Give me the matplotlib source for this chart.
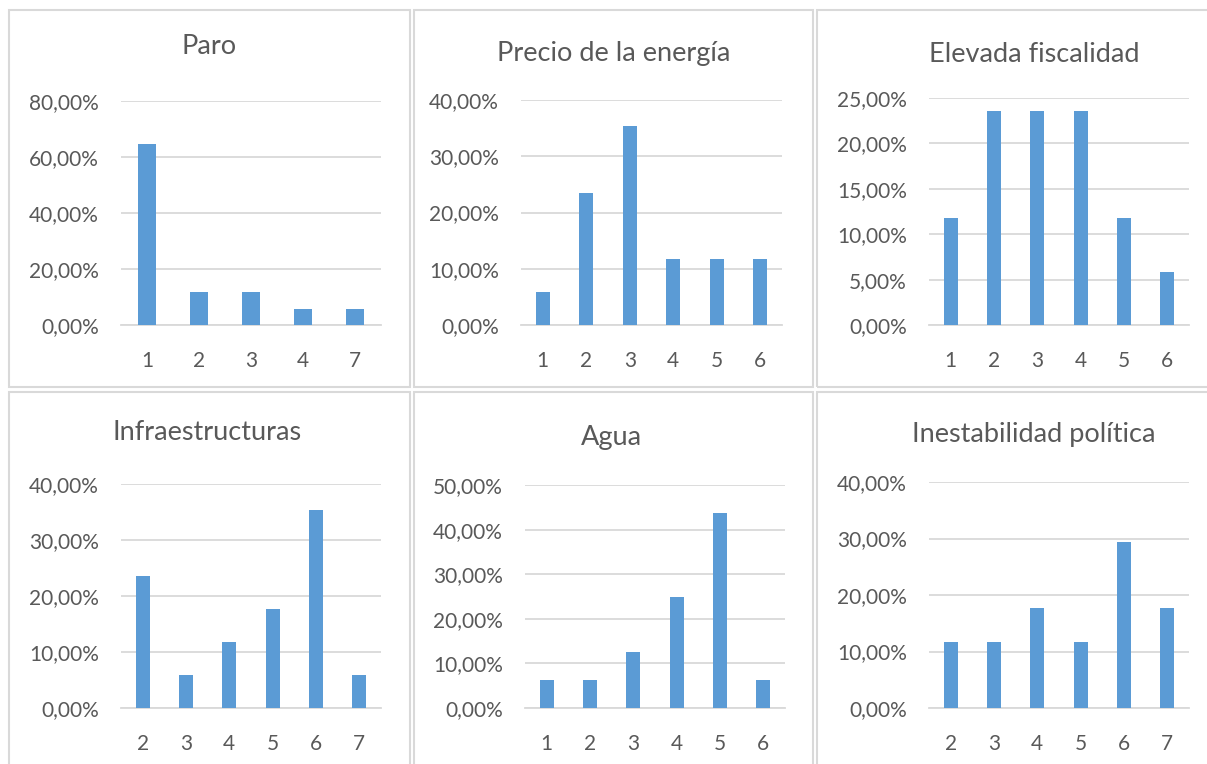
import matplotlib
matplotlib.use('Agg')
import matplotlib.pyplot as plt
from matplotlib.patches import Rectangle
from matplotlib.ticker import FuncFormatter

# datos de cada panel
paro_cats = ['1', '2', '3', '4', '7']
paro_vals = [64.71, 11.76, 11.76, 5.88, 5.88]

precio_cats = ['1', '2', '3', '4', '5', '6']
precio_vals = [5.88, 23.53, 35.29, 11.76, 11.76, 11.76]

fiscal_cats = ['1', '2', '3', '4', '5', '6']
fiscal_vals = [11.76, 23.53, 23.53, 23.53, 11.76, 5.88]

infra_cats = ['2', '3', '4', '5', '6', '7']
infra_vals = [23.53, 5.88, 11.76, 17.65, 35.29, 5.88]

agua_cats = ['1', '2', '3', '4', '5', '6']
agua_vals = [6.25, 6.25, 12.5, 25.0, 43.75, 6.25]

inest_cats = ['2', '3', '4', '5', '6', '7']
inest_vals = [11.76, 11.76, 17.65, 11.76, 29.41, 17.65]

titles = ['Paro', 'Precio de la energía', 'Elevada fiscalidad',
          'Infraestructuras', 'Agua', 'Inestabilidad política']
ymax = [80, 40, 25, 40, 50, 40]
ystep = [20, 10, 5, 10, 10, 10]

W, H = 1207, 764
BAR = '#5B9BD5'
GRID = '#D9D9D9'
TXT = '#595959'

plt.rcParams['font.family'] = ['Lato', 'DejaVu Sans']

fig = plt.figure(figsize=(W / 100, H / 100), dpi=100)


def box(x0, y0, x1, y1):
    return [x0 / W, 1 - y1 / H, (x1 - x0) / W, (y1 - y0) / H]


# marcos de los paneles
frames = [(9, 10, 410, 387), (414, 10, 813, 387), (817, 10, 1210, 387),
          (9, 392, 410, 768), (414, 392, 813, 768), (817, 392, 1210, 768)]
for f in frames:
    r = box(*f)
    fig.patches.append(Rectangle((r[0], r[1]), r[2], r[3], transform=fig.transFigure,
                                 fill=False, edgecolor=GRID, linewidth=1.5))

# areas de trazado (px)
plots = [(121, 101, 381, 325), (521, 100, 782, 325), (929, 98, 1189, 325),
         (121, 484, 381, 708), (525, 485, 785, 708), (929, 482, 1189, 708)]
title_pos = [(209, 47), (614, 53), (1034, 55), (207, 433), (611, 438), (1034, 435)]

data = [(paro_cats, paro_vals), (precio_cats, precio_vals), (fiscal_cats, fiscal_vals),
        (infra_cats, infra_vals), (agua_cats, agua_vals), (inest_cats, inest_vals)]

for i, (cats, vals) in enumerate(data):
    ax = fig.add_axes(box(*plots[i]))
    x = range(len(cats))
    ax.bar(x, vals, width=0.33, color=BAR, zorder=3)
    ax.set_xlim(-0.5, len(cats) - 0.5)
    ax.set_ylim(0, ymax[i])
    ax.set_yticks(range(0, ymax[i] + 1, ystep[i]))
    ax.yaxis.set_major_formatter(FuncFormatter(lambda v, p: f'{v:.2f}%'.replace('.', ',')))
    ax.set_xticks(list(x))
    ax.set_xticklabels(cats)
    ax.grid(axis='y', color=GRID, linewidth=1.3, zorder=0)
    for s in ['top', 'right', 'left']:
        ax.spines[s].set_visible(False)
    ax.spines['bottom'].set_color(GRID)
    ax.spines['bottom'].set_linewidth(1.3)
    ax.tick_params(length=0, labelsize=15, colors=TXT)
    ax.tick_params(axis='x', pad=19)
    ax.tick_params(axis='y', pad=16)
    tx, ty = title_pos[i]
    fig.text(tx / W, 1 - ty / H, titles[i], ha='center', va='center',
             fontsize=19.5, color=TXT)

fig.savefig('out.png', dpi=100)
